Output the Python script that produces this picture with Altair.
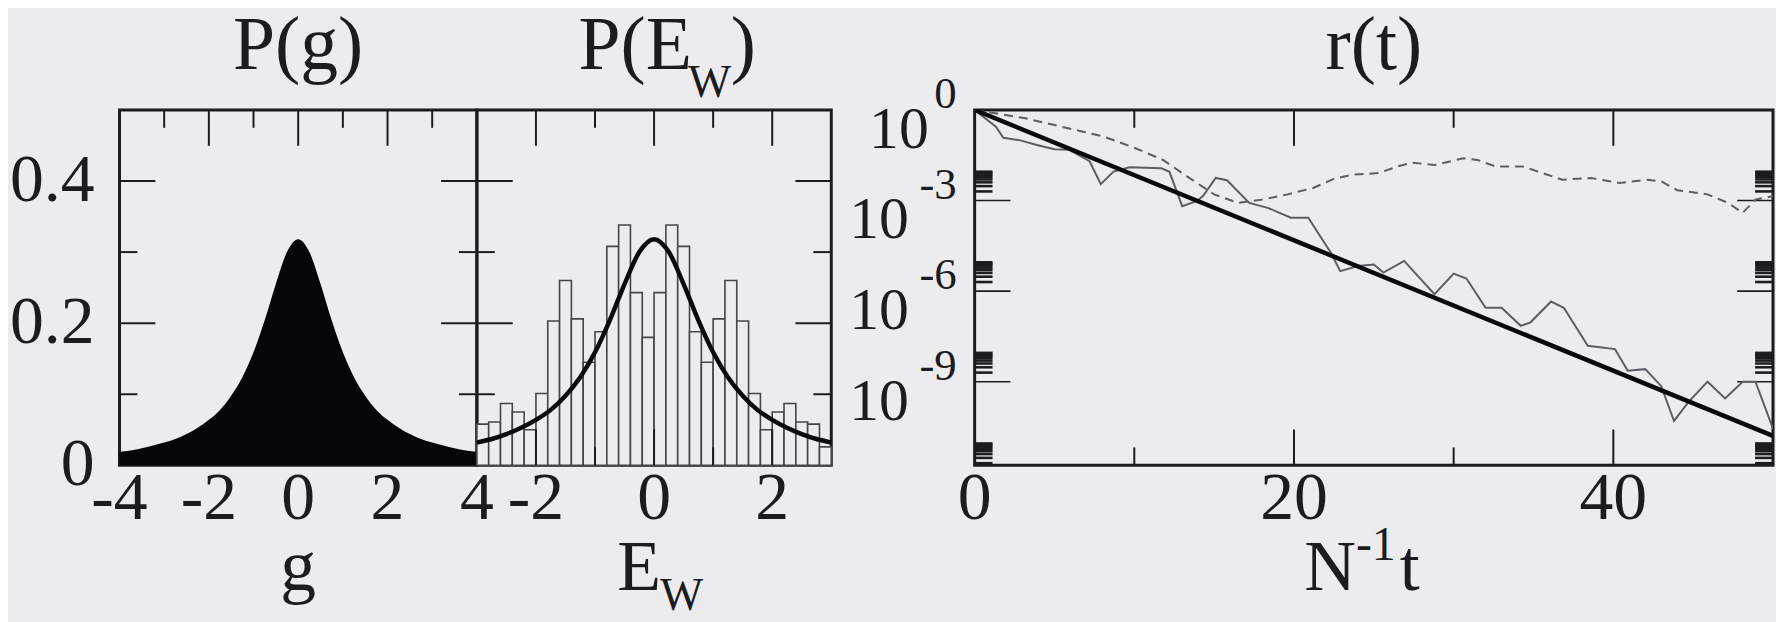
import altair as alt
import pandas as pd

FONT = "Liberation Serif"
BG = "#ececef"
INK = "#1c1c20"

# ---------------- data ----------------
# panel 1: P(g)
g_vals = [-4.0, -3.75, -3.5, -3.25, -3.0, -2.75, -2.5, -2.25, -2.0, -1.75, -1.5, -1.25,
          -1.0, -0.75, -0.5, -0.25, 0.0, 0.25, 0.5, 0.75, 1.0, 1.25, 1.5, 1.75, 2.0,
          2.25, 2.5, 2.75, 3.0, 3.25, 3.5, 3.75, 4.0]
pg_vals = [0.019, 0.021, 0.024, 0.028, 0.032, 0.037, 0.044, 0.053, 0.064, 0.078, 0.098, 0.124,
           0.159, 0.204, 0.255, 0.300, 0.318, 0.300, 0.255, 0.204, 0.159, 0.124, 0.098, 0.078,
           0.064, 0.053, 0.044, 0.037, 0.032, 0.028, 0.024, 0.021, 0.019]

# panel 2: histogram of E_w and the curve
ew_lo = [-3.0, -2.8, -2.6, -2.4, -2.2, -2.0, -1.8, -1.6, -1.4, -1.2, -1.0, -0.8, -0.6, -0.4, -0.2,
         0.0, 0.2, 0.4, 0.6, 0.8, 1.0, 1.2, 1.4, 1.6, 1.8, 2.0, 2.2, 2.4, 2.6, 2.8]
ew_hi = [-2.8, -2.6, -2.4, -2.2, -2.0, -1.8, -1.6, -1.4, -1.2, -1.0, -0.8, -0.6, -0.4, -0.2, 0.0,
         0.2, 0.4, 0.6, 0.8, 1.0, 1.2, 1.4, 1.6, 1.8, 2.0, 2.2, 2.4, 2.6, 2.8, 3.0]
ew_h = [0.058, 0.061, 0.087, 0.075, 0.050, 0.101, 0.203, 0.260, 0.206, 0.145, 0.188, 0.308, 0.338,
        0.243, 0.180, 0.243, 0.338, 0.308, 0.188, 0.145, 0.206, 0.260, 0.203, 0.101, 0.050, 0.075,
        0.087, 0.061, 0.058, 0.026]
ew_cx = [-3.0, -2.75, -2.5, -2.25, -2.0, -1.75, -1.5, -1.25, -1.0, -0.75, -0.5, -0.25, 0.0,
         0.25, 0.5, 0.75, 1.0, 1.25, 1.5, 1.75, 2.0, 2.25, 2.5, 2.75, 3.0]
ew_cp = [0.032, 0.037, 0.044, 0.053, 0.064, 0.078, 0.098, 0.124, 0.159, 0.204, 0.255, 0.300, 0.318,
         0.300, 0.255, 0.204, 0.159, 0.124, 0.098, 0.078, 0.064, 0.053, 0.044, 0.037, 0.032]

# panel 3: r(t)
t_thin = [0.0, 1.33, 1.8, 2.8, 3.9, 5.0, 5.9, 7.2, 7.9, 8.7, 9.7, 11.7, 12.2, 13.0, 13.9, 14.3,
          15.1, 15.8, 17.2, 18.4, 19.8, 20.9, 21.5, 22.3, 22.9, 24.0, 25.0, 25.6, 26.9, 28.8,
          30.0, 30.8, 32.0, 33.0, 34.2, 34.8, 36.1, 36.9, 38.4, 39.3, 40.1, 40.9, 42.0, 43.0,
          43.8, 44.7, 45.9, 47.0, 48.1, 48.9, 50.0]
r_thin = [1.0, 2.8e-1, 1.2e-1, 1.0e-1, 6.9e-2, 5.0e-2, 4.8e-2, 2.0e-2, 3.5e-3, 9.1e-3, 1.26e-2,
          1.17e-2, 8.9e-3, 6.5e-4, 9.5e-4, 1.4e-3, 5.6e-3, 4.7e-3, 8.3e-4, 5.6e-4, 2.7e-4, 2.7e-4,
          8.5e-5, 1.9e-5, 4.6e-6, 6.8e-6, 7.6e-6, 4.1e-6, 1.0e-5, 7.9e-7, 3.8e-6, 2.6e-6, 2.8e-7,
          2.8e-7, 7.1e-8, 9.1e-8, 4.5e-7, 2.8e-7, 1.55e-8, 1.35e-8, 1.2e-8, 2.3e-9, 2.6e-9,
          7.1e-10, 5.0e-11, 2.1e-10, 1.0e-9, 2.8e-10, 1.0e-9, 1.0e-9, 2.8e-11]
t_dash = [0.0, 3.1, 6.8, 8.1, 10.0, 11.8, 13.3, 15.0, 16.5, 18.0, 19.6, 21.2, 22.5, 23.6, 25.3,
          26.5, 27.4, 28.8, 30.6, 31.5, 32.6, 34.3, 36.8, 38.6, 40.4, 42.1, 43.0, 44.0, 45.9,
          47.2, 48.1, 48.9, 50.0]
r_dash = [1.0, 5.4e-1, 1.9e-1, 1.3e-1, 5.6e-2, 2.2e-2, 6.3e-3, 1.6e-3, 8.3e-4, 1.07e-3, 1.6e-3,
          2.6e-3, 5.2e-3, 7.1e-3, 8.1e-3, 1.35e-2, 1.8e-2, 1.5e-2, 2.5e-2, 2.2e-2, 1.35e-2, 1.35e-2,
          4.9e-3, 5.6e-3, 3.8e-3, 4.9e-3, 4.3e-3, 2.2e-3, 1.6e-3, 8.3e-4, 3.9e-4, 1.07e-3, 1.4e-3]
t_fit = [0.0, 50.0]
r_fit = [1.0, 1.6e-11]

# ticks and labels
p_major = [0.2, 0.4]
p_minor = [0.1, 0.3]
p_labels = ["0", "0.2", "0.4"]
p_label_vals = [0.0, 0.2, 0.4]
g_major = [-2, 0, 2]
g_minor = [-3, -1, 1, 3]
g_label_vals = [-4, -2, 0, 2, 4]
g_labels = ["-4", "-2", "0", "2", "4"]
e_major = [-2, 0, 2]
e_minor = [-1, 1]
e_labels = ["-2", "0", "2"]
t_major = [20, 40]
t_minor = [10, 30]
t_label_vals = [0, 20, 40]
t_labels = ["0", "20", "40"]
r_major = [1e-3, 1e-6, 1e-9]
r_minor = [2e-3, 3e-3, 4e-3, 5e-3, 6e-3, 7e-3, 8e-3, 9e-3,
           2e-6, 3e-6, 4e-6, 5e-6, 6e-6, 7e-6, 8e-6, 9e-6,
           2e-9, 3e-9, 4e-9, 5e-9, 6e-9, 7e-9, 8e-9, 9e-9,
           2e-12, 3e-12, 4e-12, 5e-12, 6e-12, 7e-12, 8e-12, 9e-12]
r_label_vals = [1.0, 1e-3, 1e-6, 1e-9]
r_label_exp = ["0", "-3", "-6", "-9"]

# ---------------- layout / style ----------------
W1, W2, GAP, W3, H = 359, 356, 144, 802, 357
MAJ, MIN = 36, 18
TICK_W = 2
LAB = 68
TIT = 76
SUB = 46
AX = 72
TY = -41          # title baseline relative to plot top
AY = H + 125      # axis-title baseline


def df(**cols):
    return pd.DataFrame(cols)


def yticks(vals, length, width, sc, sw=TICK_W):
    d = df(v=vals)
    base = alt.Chart(d).mark_rule(color=INK, strokeWidth=sw)
    return [base.encode(y=alt.Y("v:Q", scale=sc, axis=None), x=alt.value(0), x2=alt.value(length)),
            base.encode(y=alt.Y("v:Q", scale=sc, axis=None), x=alt.value(width), x2=alt.value(width - length))]


def xticks(vals, length, sc):
    d = df(v=vals)
    base = alt.Chart(d).mark_rule(color=INK, strokeWidth=TICK_W)
    return [base.encode(x=alt.X("v:Q", scale=sc, axis=None), y=alt.value(0), y2=alt.value(length)),
            base.encode(x=alt.X("v:Q", scale=sc, axis=None), y=alt.value(H), y2=alt.value(H - length))]


def xlabels(vals, labs, sc):
    return alt.Chart(df(v=vals, s=labs)).mark_text(
        font=FONT, fontSize=LAB, color=INK, align="center", baseline="alphabetic"
    ).encode(x=alt.X("v:Q", scale=sc, axis=None), y=alt.value(H + 54), text="s:N")


def text_at(s, x, y, size, align="center"):
    return alt.Chart(df(s=[s])).mark_text(
        font=FONT, fontSize=size, color=INK, align=align, baseline="alphabetic"
    ).encode(x=alt.value(x), y=alt.value(y), text="s:N")


# ---------------- panel 1 ----------------
xs1 = alt.Scale(domain=[-4, 4], nice=False, zero=False)
ys = alt.Scale(domain=[0, 0.5], nice=False, zero=False)

area1 = alt.Chart(df(g=g_vals, p=pg_vals)).mark_area(color="#050507", interpolate="monotone").encode(
    x=alt.X("g:Q", scale=xs1, axis=None), y=alt.Y("p:Q", scale=ys, axis=None))
ylab1 = alt.Chart(df(v=p_label_vals, s=p_labels)).mark_text(
    font=FONT, fontSize=LAB, color=INK, align="right", baseline="middle"
).encode(y=alt.Y("v:Q", scale=ys, axis=None), x=alt.value(-25), text="s:N")

p1 = alt.layer(
    *yticks(p_major, MAJ, W1, ys), *yticks(p_minor, MIN, W1, ys),
    *xticks(g_major, MAJ, xs1), *xticks(g_minor, MIN, xs1),
    area1, ylab1, xlabels(g_label_vals, g_labels, xs1),
    text_at("P(g)", W1 / 2, TY, TIT),
    text_at("g", W1 / 2, AY, AX),
).properties(width=W1, height=H)

# ---------------- panel 2 ----------------
xs2 = alt.Scale(domain=[-3, 3], nice=False, zero=False)
bars = alt.Chart(df(lo=ew_lo, hi=ew_hi, h=ew_h)).mark_rect(
    fill=BG, stroke="#44444c", strokeWidth=1.6
).encode(x=alt.X("lo:Q", scale=xs2, axis=None), x2="hi:Q",
         y=alt.Y("h:Q", scale=ys, axis=None), y2=alt.datum(0))
curve2 = alt.Chart(df(e=ew_cx, p=ew_cp)).mark_line(color="#0a0a0c", strokeWidth=4.5, interpolate="monotone").encode(
    x=alt.X("e:Q", scale=xs2, axis=None), y=alt.Y("p:Q", scale=ys, axis=None))

p2 = alt.layer(
    bars, curve2,
    *yticks(p_major, MAJ, W2, ys), *yticks(p_minor, MIN, W2, ys),
    *xticks(e_major, MAJ, xs2), *xticks(e_minor, MIN, xs2),
    xlabels(e_major, e_labels, xs2),
    text_at("P(E", 216, TY, TIT, "right"),
    text_at("W", 212, TY + 28, SUB, "left"),
    text_at(")", 255, TY, TIT, "left"),
    text_at("E", 185, AY, AX, "right"),
    text_at("W", 184, AY + 20, SUB, "left"),
).properties(width=W2, height=H)

# ---------------- spacer between the two groups ----------------
gap = alt.Chart(df(a=[0])).mark_point(opacity=0).encode(
    x=alt.value(0), y=alt.value(0)
).properties(width=GAP, height=H, view=alt.ViewBackground(stroke="transparent", strokeWidth=0))

# ---------------- panel 3 ----------------
xs3 = alt.Scale(domain=[0, 50], nice=False, zero=False)
ys3 = alt.Scale(type="log", domain=[1.7e-12, 1], nice=False)

thick = alt.Chart(df(t=t_fit, r=r_fit)).mark_line(color="#0a0a0c", strokeWidth=4.5, clip=True).encode(
    x=alt.X("t:Q", scale=xs3, axis=None), y=alt.Y("r:Q", scale=ys3, axis=None))
thin = alt.Chart(df(t=t_thin, r=r_thin)).mark_line(color="#5c5c64", strokeWidth=2, clip=True).encode(
    x=alt.X("t:Q", scale=xs3, axis=None), y=alt.Y("r:Q", scale=ys3, axis=None))
dash = alt.Chart(df(t=t_dash, r=r_dash)).mark_line(color="#5c5c64", strokeWidth=2, strokeDash=[9, 6], clip=True).encode(
    x=alt.X("t:Q", scale=xs3, axis=None), y=alt.Y("r:Q", scale=ys3, axis=None))

rlab = df(v=r_label_vals, e=r_label_exp)
base10 = alt.Chart(rlab).transform_calculate(
    bx="datum.e.length > 1 ? -66 : -46"
).mark_text(font=FONT, fontSize=60, color=INK, align="right", baseline="alphabetic", dy=38).encode(
    y=alt.Y("v:Q", scale=ys3, axis=None), x=alt.X("bx:Q", scale=None), text=alt.value("10"))
expo = alt.Chart(rlab).mark_text(font=FONT, fontSize=45, color=INK, align="right", baseline="alphabetic", dy=-2).encode(
    y=alt.Y("v:Q", scale=ys3, axis=None), x=alt.value(-18), text="e:N")

p3 = alt.layer(
    *yticks(r_major, MAJ, W3, ys3, 1.6), *yticks(r_minor, MIN, W3, ys3, 2.6),
    *xticks(t_major, MAJ, xs3), *xticks(t_minor, MIN, xs3),
    dash, thin, thick,
    base10, expo,
    xlabels(t_label_vals, t_labels, xs3),
    text_at("r(t)", W3 / 2, TY, TIT),
    text_at("N", 383, AY, AX, "right"),
    text_at("-1", 383, AY - 30, 48, "left"),
    text_at("t", 427, AY, AX, "left"),
).properties(width=W3, height=H)

chart = alt.hconcat(p1, p2, gap, p3, spacing=0, bounds="flush").properties(
    background=BG,
    padding={"left": 0, "top": -3, "right": 0, "bottom": 0},
).configure_view(stroke=INK, strokeWidth=3)

chart.save("out.html", embed_options={"renderer": "svg", "actions": False})
